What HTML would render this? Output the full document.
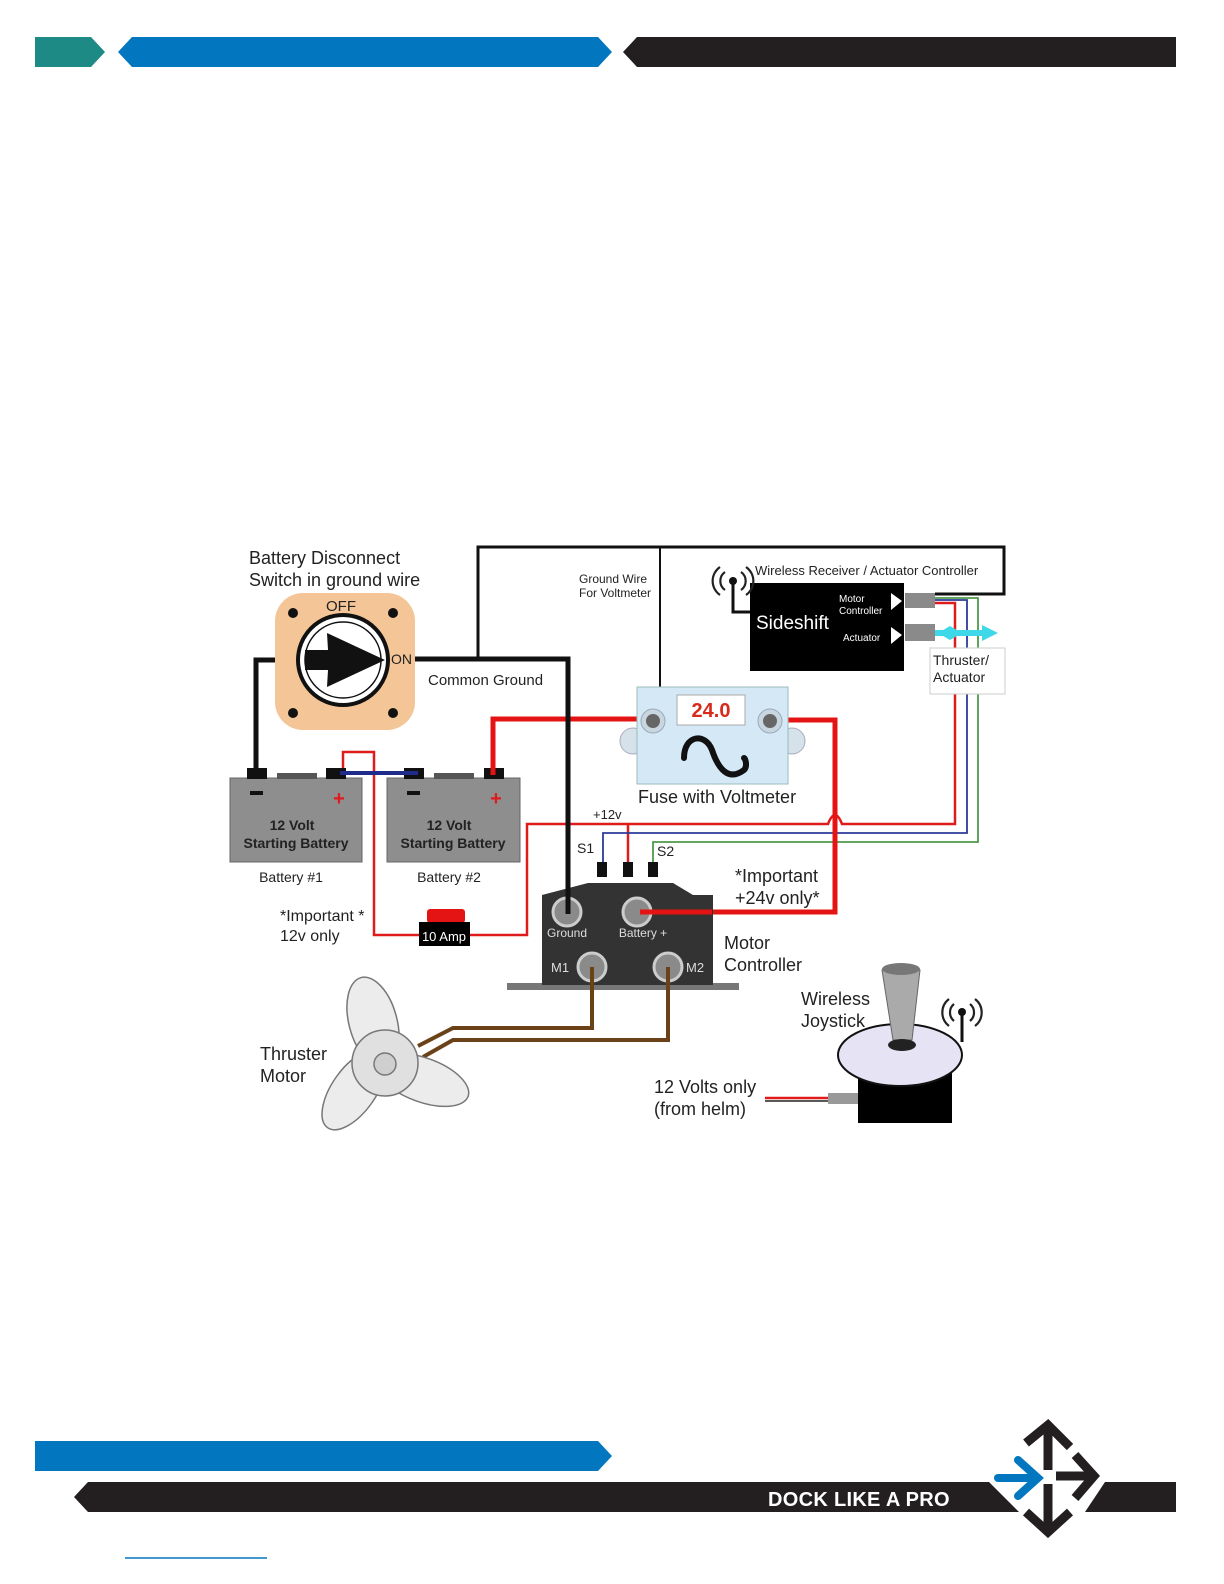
<!DOCTYPE html>
<html><head><meta charset="utf-8"><style>
html,body{margin:0;padding:0;background:#fff;overflow:hidden;width:1224px;height:1584px;}
svg{display:block;}
text{font-family:"Liberation Sans",Arial,sans-serif;}
</style></head><body>
<svg width="1224" height="1584" viewBox="0 0 1224 1584" xmlns="http://www.w3.org/2000/svg">
<!-- header -->
<polygon points="35,37 91,37 105,52 91,67 35,67" fill="#1e8a86"/>
<polygon points="132,37 598,37 612,52 598,67 132,67 118,52" fill="#0277bf"/>
<polygon points="637,37 1176,37 1176,67 637,67 623,52" fill="#231f20"/>
<!-- footer -->
<polygon points="35,1441 598,1441 612,1456 598,1471 35,1471" fill="#0277bf"/>
<polygon points="88,1482 1010,1482 1020,1512 88,1512 74,1497" fill="#231f20"/>
<polygon points="1105,1482 1176,1482 1176,1512 1085,1512" fill="#231f20"/>
<text x="768" y="1506" font-size="20" fill="#fff" font-weight="bold" letter-spacing="0.3">DOCK LIKE A PRO</text>
<!-- logo -->
<polygon points="1038,1422 1092,1477 1038,1531 984,1477" fill="#fff"/>
<g stroke="#231f20" stroke-width="9" fill="none" stroke-linejoin="miter">
<polyline points="1026,1443 1048,1425 1070,1447"/>
<polyline points="1075,1455 1094,1476 1075,1498"/>
<polyline points="1026,1512 1048,1532 1070,1512"/>
<line x1="1048" y1="1428" x2="1048" y2="1470"/>
<line x1="1048" y1="1484" x2="1048" y2="1528"/>
<line x1="1056" y1="1476" x2="1090" y2="1476"/>
</g>
<g stroke="#0277bf" stroke-width="8" fill="none" stroke-linecap="round">
<line x1="998" y1="1478" x2="1036" y2="1478"/>
<polyline points="1018,1460 1038,1478 1018,1496"/>
</g>
<line x1="125" y1="1558" x2="267" y2="1558" stroke="#0277bf" stroke-width="1.5"/>

<!-- ===== diagram ===== -->
<polyline points="478,659 478,547 1004,547 1004,594 935,594" fill="none" stroke="#111" stroke-width="3"/>
<line x1="660" y1="547" x2="660" y2="687" stroke="#111" stroke-width="2"/>
<polyline points="412,659 568,659 568,912" fill="none" stroke="#111" stroke-width="5"/>
<polyline points="278,660 256,660 256,775" fill="none" stroke="#111" stroke-width="5"/>

<!-- thin red 12v -->
<polyline points="343,775 343,752 374,752 374,935 420,935" fill="none" stroke="#e01b1b" stroke-width="2.5"/>
<path d="M470,935 L527,935 L527,824 L828,824 Q835,806 842,824 L955,824 L955,603 L935,603" fill="none" stroke="#e01b1b" stroke-width="2.5"/>
<polyline points="628,824 628,866" fill="none" stroke="#e01b1b" stroke-width="2.5"/>
<polyline points="603,866 603,833 967,833 967,600 935,600" fill="none" stroke="#2b3a9a" stroke-width="1.8"/>
<polyline points="653,866 653,842 978,842 978,598 935,598" fill="none" stroke="#4e9a4a" stroke-width="1.8"/>

<!-- batteries -->
<rect x="230" y="778" width="132" height="84" fill="#8e8e8e" stroke="#666"/>
<rect x="387" y="778" width="133" height="84" fill="#8e8e8e" stroke="#666"/>
<rect x="247" y="768" width="20" height="11" fill="#111"/>
<rect x="277" y="773" width="40" height="6" fill="#555"/>
<rect x="326" y="768" width="20" height="11" fill="#111"/>
<rect x="404" y="768" width="20" height="11" fill="#111"/>
<rect x="434" y="773" width="40" height="6" fill="#555"/>
<rect x="484" y="768" width="20" height="11" fill="#111"/>
<line x1="340" y1="773" x2="418" y2="773" stroke="#1e2a8c" stroke-width="4"/>
<rect x="250" y="791" width="13" height="4" fill="#111"/>
<rect x="407" y="791" width="13" height="4" fill="#111"/>
<text x="339" y="805" font-size="20" fill="#e01b1b" font-weight="bold" text-anchor="middle">+</text>
<text x="496" y="805" font-size="20" fill="#e01b1b" font-weight="bold" text-anchor="middle">+</text>
<g font-size="14" font-weight="bold" fill="#222" text-anchor="middle">
<text x="292" y="830">12 Volt</text><text x="296" y="848">Starting Battery</text>
<text x="449" y="830">12 Volt</text><text x="453" y="848">Starting Battery</text>
</g>
<text x="291" y="882" font-size="14" fill="#222" text-anchor="middle">Battery #1</text>
<text x="449" y="882" font-size="14" fill="#222" text-anchor="middle">Battery #2</text>

<polyline points="493,775 493,719 652,719" fill="none" stroke="#e51414" stroke-width="5"/>
<polyline points="770,720 835,720 835,912 637,912" fill="none" stroke="#e51414" stroke-width="5"/>

<!-- switch -->
<rect x="275" y="593" width="140" height="137" rx="28" fill="#f4c596"/>
<circle cx="293" cy="613" r="5" fill="#111"/><circle cx="393" cy="613" r="5" fill="#111"/>
<circle cx="293" cy="713" r="5" fill="#111"/><circle cx="393" cy="713" r="5" fill="#111"/>
<circle cx="343" cy="660" r="45" fill="#fff" stroke="#111" stroke-width="4"/>
<circle cx="343" cy="660" r="38" fill="none" stroke="#111" stroke-width="1.5"/>
<polygon points="305,650 328,650 327,633 385,660 327,687 328,670 305,670" fill="#111"/>
<text x="341" y="611" font-size="15" fill="#222" text-anchor="middle">OFF</text>
<text x="391" y="664" font-size="14" fill="#222">ON</text>
<text x="249" y="564" font-size="18" fill="#222">Battery Disconnect</text>
<text x="249" y="586" font-size="18" fill="#222">Switch in ground wire</text>
<text x="428" y="685" font-size="15" fill="#222">Common Ground</text>
<text x="579" y="583" font-size="12" fill="#222">Ground Wire</text>
<text x="579" y="597" font-size="12" fill="#222">For Voltmeter</text>

<!-- fuse -->
<circle cx="633" cy="741" r="13" fill="#d6e2ea" stroke="#aab"/><circle cx="792" cy="741" r="13" fill="#d6e2ea" stroke="#aab"/>
<rect x="637" y="687" width="151" height="97" fill="#d5e8f5" stroke="#9bb"/>
<rect x="677" y="695" width="68" height="30" fill="#fff" stroke="#aaa"/>
<text x="711" y="717" font-size="20" font-weight="bold" fill="#d62a1a" text-anchor="middle">24.0</text>
<circle cx="653" cy="721" r="12" fill="#c8d6df" stroke="#9ab"/><circle cx="653" cy="721" r="7" fill="#666"/>
<circle cx="770" cy="721" r="12" fill="#c8d6df" stroke="#9ab"/><circle cx="770" cy="721" r="7" fill="#666"/>
<path d="M684,758 C684,735 705,732 712,750 C718,768 728,782 744,770 C748,766 745,758 744,758" fill="none" stroke="#111" stroke-width="6" stroke-linecap="round"/>
<text x="638" y="803" font-size="18" fill="#222">Fuse with Voltmeter</text>

<!-- sideshift -->
<rect x="750" y="583" width="154" height="88" fill="#000"/>
<text x="756" y="629" font-size="19" fill="#fff">Sideshift</text>
<text x="839" y="602" font-size="10" fill="#fff">Motor</text>
<text x="839" y="614" font-size="10" fill="#fff">Controller</text>
<text x="843" y="641" font-size="10" fill="#fff">Actuator</text>
<polygon points="891,593 902,601 891,610" fill="#fff"/>
<polygon points="891,627 902,635 891,644" fill="#fff"/>
<rect x="905" y="593" width="30" height="15" fill="#8a8a8a"/>
<rect x="905" y="624" width="30" height="17" fill="#8a8a8a"/>
<line x1="935" y1="633" x2="985" y2="633" stroke="#3fd8e8" stroke-width="6"/>
<polygon points="982,625 998,633 982,641" fill="#3fd8e8"/>
<polygon points="950,626 962,633 950,640 938,633" fill="#3fd8e8"/>
<text x="755" y="575" font-size="13" fill="#222">Wireless Receiver / Actuator Controller</text>
<rect x="930" y="648" width="75" height="46" fill="#fff" stroke="#ccc"/>
<text x="933" y="665" font-size="14" fill="#222">Thruster/</text>
<text x="933" y="682" font-size="14" fill="#222">Actuator</text>
<polyline points="733,579 733,612 750,612" fill="none" stroke="#111" stroke-width="3"/>
<circle cx="733" cy="581" r="4" fill="#111"/>
<g fill="none" stroke="#222" stroke-width="2.2">
<path d="M725,572 a11,11 0 0 0 0,18"/><path d="M720,567 a17,17 0 0 0 0,28"/>
<path d="M741,572 a11,11 0 0 1 0,18"/><path d="M746,567 a17,17 0 0 1 0,28"/>
</g>

<!-- controller -->
<rect x="507" y="983" width="232" height="7" fill="#777"/>
<polygon points="542,895 588,883 673,883 693,895 713,895 713,985 542,985" fill="#333"/>
<rect x="597" y="862" width="10" height="15" fill="#111"/>
<rect x="623" y="862" width="10" height="15" fill="#111"/>
<rect x="648" y="862" width="10" height="15" fill="#111"/>
<g fill="#8a8a8a" stroke="#ccc" stroke-width="3">
<circle cx="567" cy="912" r="14"/><circle cx="637" cy="912" r="14"/>
<circle cx="592" cy="967" r="14"/><circle cx="668" cy="967" r="14"/>
</g>
<line x1="568" y1="659" x2="568" y2="914" stroke="#111" stroke-width="5"/>
<line x1="640" y1="912" x2="712" y2="912" stroke="#e51414" stroke-width="5"/>
<text x="567" y="937" font-size="12" fill="#ddd" text-anchor="middle">Ground</text>
<text x="643" y="937" font-size="12" fill="#ddd" text-anchor="middle">Battery +</text>
<text x="551" y="972" font-size="13" fill="#ddd">M1</text>
<text x="686" y="972" font-size="13" fill="#ddd">M2</text>
<text x="593" y="819" font-size="13" fill="#222">+12v</text>
<text x="577" y="853" font-size="14" fill="#222">S1</text>
<text x="657" y="856" font-size="14" fill="#222">S2</text>
<text x="735" y="882" font-size="18" fill="#222">*Important</text>
<text x="735" y="904" font-size="18" fill="#222">+24v only*</text>
<text x="724" y="949" font-size="18" fill="#222">Motor</text>
<text x="724" y="971" font-size="18" fill="#222">Controller</text>
<text x="280" y="921" font-size="16" fill="#222">*Important *</text>
<text x="280" y="941" font-size="16" fill="#222">12v only</text>
<rect x="427" y="909" width="38" height="14" rx="3" fill="#e51414"/>
<rect x="419" y="922" width="51" height="24" fill="#000"/>
<text x="444" y="941" font-size="13" fill="#fff" text-anchor="middle">10 Amp</text>

<!-- brown wires -->
<g fill="none" stroke="#6b4118" stroke-width="4">
<polyline points="592,967 592,1028 453,1028 418,1046"/>
<polyline points="668,967 668,1040 453,1040 423,1057"/>
</g>
<!-- propeller -->
<g fill="#ececec" stroke="#777" stroke-width="1.5">
<ellipse cx="373" cy="1022" rx="24" ry="46" transform="rotate(-15 373 1022)"/>
<ellipse cx="423" cy="1080" rx="48" ry="22" transform="rotate(20 423 1080)"/>
<ellipse cx="354" cy="1090" rx="22" ry="46" transform="rotate(35 354 1090)"/>
<circle cx="385" cy="1063" r="33" fill="#e0e0e0"/>
<circle cx="385" cy="1064" r="11" fill="#cfcfcf"/>
</g>
<text x="260" y="1060" font-size="18" fill="#222">Thruster</text>
<text x="260" y="1082" font-size="18" fill="#222">Motor</text>

<!-- joystick -->
<rect x="858" y="1055" width="94" height="68" fill="#000"/>
<ellipse cx="900" cy="1055" rx="62" ry="31" fill="#e6e4f4" stroke="#111" stroke-width="2"/>
<polygon points="882,970 920,970 912,1040 893,1040" fill="#aaa" stroke="#666"/>
<ellipse cx="901" cy="969" rx="19" ry="6" fill="#777"/>
<ellipse cx="902" cy="1045" rx="14" ry="6" fill="#222"/>
<line x1="962" y1="1012" x2="962" y2="1042" stroke="#111" stroke-width="3"/>
<circle cx="962" cy="1012" r="4" fill="#111"/>
<g fill="none" stroke="#222" stroke-width="2.2">
<path d="M954,1004 a11,11 0 0 0 0,17"/><path d="M949,999 a17,17 0 0 0 0,27"/>
<path d="M970,1004 a11,11 0 0 1 0,17"/><path d="M975,999 a17,17 0 0 1 0,27"/>
</g>
<line x1="765" y1="1098" x2="828" y2="1098" stroke="#e01b1b" stroke-width="2.5"/>
<line x1="765" y1="1101" x2="828" y2="1101" stroke="#222" stroke-width="1.5"/>
<rect x="828" y="1093" width="30" height="11" fill="#999"/>
<text x="801" y="1005" font-size="18" fill="#222">Wireless</text>
<text x="801" y="1027" font-size="18" fill="#222">Joystick</text>
<text x="654" y="1093" font-size="18" fill="#222">12 Volts only</text>
<text x="654" y="1115" font-size="18" fill="#222">(from helm)</text>
</svg>
</body></html>
